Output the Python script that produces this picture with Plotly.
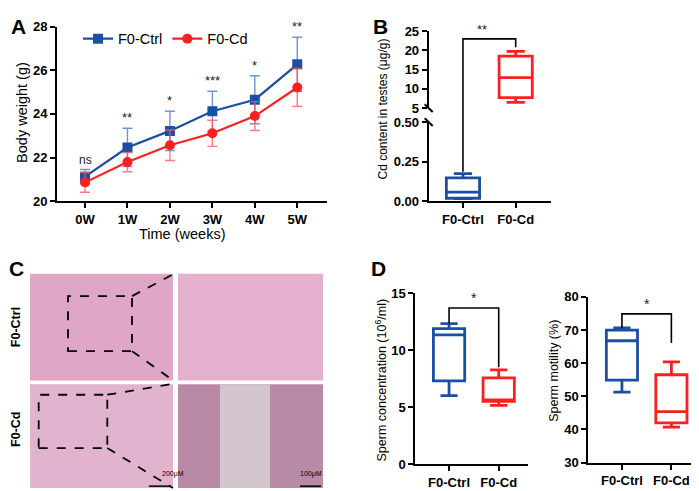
import plotly.graph_objects as go

W, H = 699, 491

# ---------------- data ----------------
weeks = ["0W", "1W", "2W", "3W", "4W", "5W"]
ctrl_mean = [21.12, 22.46, 23.22, 24.12, 24.65, 26.27]
ctrl_sd = [0.33, 0.88, 0.90, 0.92, 1.10, 1.24]
cd_mean = [20.86, 21.79, 22.56, 23.11, 23.90, 25.21]
cd_sd = [0.45, 0.44, 0.70, 0.60, 0.66, 0.87]
sig_a = ["ns", "**", "*", "***", "*", "**"]

groups = ["F0-Ctrl", "F0-Cd"]
# box stats: lowerfence, q1, median, q3, upperfence
cd_content_ctrl = [0.018, 0.02, 0.058, 0.149, 0.175]
cd_content_cd = [6.5, 7.7, 12.9, 18.5, 19.75]
conc_ctrl = [6.0, 7.3, 11.32, 11.88, 12.31]
conc_cd = [5.15, 5.5, 5.62, 7.55, 8.26]
mot_ctrl = [51.25, 54.85, 66.75, 69.97, 70.6]
mot_cd = [40.7, 42.0, 45.4, 56.5, 60.4]
sig_b, sig_conc, sig_mot = "**", "*", "*"

BLUE = "#1b4fa3"
RED = "#ff1f1f"
BLUE_ERR = "rgba(70,125,205,0.8)"
RED_ERR = "rgba(255,90,90,0.8)"
FONT = "Arial, Liberation Sans, sans-serif"


def fx(p):
    return p / W


def fy(p):
    return 1 - p / H


def dom_x(a, b):
    return [fx(a), fx(b)]


def dom_y(top, bottom):
    return [fy(bottom), fy(top)]


def to_paper(v, dom, rng):
    return dom[0] + (v - rng[0]) / (rng[1] - rng[0]) * (dom[1] - dom[0])


fig = go.Figure()

# ---------------- Panel A ----------------
xi = list(range(len(weeks)))
fig.add_trace(go.Scatter(
    x=xi, y=ctrl_mean, mode="lines+markers", name="F0-Ctrl",
    line=dict(color=BLUE, width=2.2),
    marker=dict(symbol="square", size=10, color=BLUE),
    error_y=dict(type="data", array=ctrl_sd, color=BLUE_ERR, thickness=1.4, width=5),
    xaxis="x", yaxis="y"))
fig.add_trace(go.Scatter(
    x=xi, y=cd_mean, mode="lines+markers", name="F0-Cd",
    line=dict(color=RED, width=2.2),
    marker=dict(symbol="circle", size=10, color=RED),
    error_y=dict(type="data", array=cd_sd, color=RED_ERR, thickness=1.4, width=5),
    xaxis="x", yaxis="y"))

annotations = []
for i, s in enumerate(sig_a):
    annotations.append(dict(x=i, y=ctrl_mean[i] + ctrl_sd[i], xref="x", yref="y",
                            text=s, showarrow=False, yanchor="bottom", yshift=1,
                            font=dict(family=FONT, size=12 if s == "ns" else 13, color="#222")))


def box(stats, xpos, color, xa, ya):
    return go.Box(x=[xpos], lowerfence=[stats[0]], q1=[stats[1]], median=[stats[2]],
                  q3=[stats[3]], upperfence=[stats[4]], width=0.63, whiskerwidth=0.55,
                  line=dict(color=color, width=2.8), fillcolor="rgba(0,0,0,0)",
                  boxpoints=False, showlegend=False, hoverinfo="skip",
                  xaxis=xa, yaxis=ya)


# ---------------- Panel B ----------------
fig.add_trace(box(cd_content_ctrl, 0, BLUE, "x2", "y2"))
fig.add_trace(box(cd_content_cd, 1, RED, "x2", "y3"))

# ---------------- Panel D ----------------
fig.add_trace(box(conc_ctrl, 0, BLUE, "x3", "y4"))
fig.add_trace(box(conc_cd, 1, RED, "x3", "y4"))
fig.add_trace(box(mot_ctrl, 0, BLUE, "x4", "y5"))
fig.add_trace(box(mot_cd, 1, RED, "x4", "y5"))

axis_common = dict(showline=True, linecolor="black", linewidth=2, ticks="outside",
                   ticklen=5, tickwidth=2, tickcolor="black", showgrid=False,
                   zeroline=False, tickfont=dict(family=FONT, size=13, color="black", weight="bold"))

xA = dom_x(49, 319); yA = dom_y(12, 192); rA = [20, 28]
xB = dom_x(420.7, 543); yB_lo = dom_y(110.5, 192.3); yB_hi = dom_y(16.7, 96); rB_lo = [0, 0.5]; rB_hi = [5, 25]
xD1 = dom_x(407.3, 520); yD1 = dom_y(286.7, 463.3); rD1 = [0, 15]
xD2 = dom_x(580.3, 698); yD2 = dom_y(290.7, 461.7); rD2 = [30, 80]
rxB = [-0.65, 1.67]; rxD1 = [-0.68, 1.59]; rxD2 = [-0.68, 1.70]

fig.update_layout(
    xaxis=dict(axis_common, domain=xA, range=[-0.66, 5.7], tickvals=xi, ticktext=weeks, anchor="y"),
    yaxis=dict(axis_common, domain=yA, range=rA, tickvals=[20, 22, 24, 26, 28], anchor="x"),
    xaxis2=dict(axis_common, domain=xB, range=rxB, tickvals=[0, 1], ticktext=groups, anchor="y2"),
    yaxis2=dict(axis_common, domain=yB_lo, range=rB_lo, tickvals=[0, 0.25, 0.5],
                tickformat=".2f", anchor="x2"),
    yaxis3=dict(axis_common, domain=yB_hi, range=rB_hi, tickvals=[5, 10, 15, 20, 25], anchor="x2"),
    xaxis3=dict(axis_common, domain=xD1, range=rxD1, tickvals=[0, 1], ticktext=groups, anchor="y4"),
    yaxis4=dict(axis_common, domain=yD1, range=rD1, tickvals=[0, 5, 10, 15], anchor="x3"),
    xaxis4=dict(axis_common, domain=xD2, range=rxD2, tickvals=[0, 1], ticktext=groups, anchor="y5"),
    yaxis5=dict(axis_common, domain=yD2, range=rD2, tickvals=[30, 40, 50, 60, 70, 80], anchor="x4"),
)

shapes = []
# Panel B bracket (spans the broken axis) in paper coords
bx0 = to_paper(0, xB, rxB); bx1 = to_paper(1, xB, rxB)
b_start = to_paper(cd_content_ctrl[4] + 0.012, yB_lo, rB_lo)
b_top = to_paper(23.0, yB_hi, rB_hi)
b_end = to_paper(20.8, yB_hi, rB_hi)
shapes.append(dict(type="path", xref="paper", yref="paper",
                   path=f"M {bx0},{b_start} L {bx0},{b_top} L {bx1},{b_top} L {bx1},{b_end}",
                   line=dict(color="black", width=1.6)))
annotations.append(dict(x=(bx0 + bx1) / 2, y=b_top, xref="paper", yref="paper", text=sig_b,
                        showarrow=False, yanchor="bottom", font=dict(family=FONT, size=13, color="#222")))
# break marks
ax_x = fx(420.7)
for yv in [fy(96), fy(110.5)]:
    shapes.append(dict(type="line", xref="paper", yref="paper",
                       x0=ax_x - 4 / W, y0=yv + 4 / H, x1=ax_x + 4 / W, y1=yv - 4 / H,
                       line=dict(color="black", width=2)))

# Panel D brackets
shapes.append(dict(type="path", xref="x3", yref="y4",
                   path=f"M 0,{conc_ctrl[4]} L 0,13.68 L 1,13.68 L 1,8.49",
                   line=dict(color="black", width=1.6)))
annotations.append(dict(x=0.5, y=13.68, xref="x3", yref="y4", text=sig_conc, showarrow=False,
                        yanchor="bottom", font=dict(family=FONT, size=14, color="#222")))
shapes.append(dict(type="path", xref="x4", yref="y5",
                   path=f"M 0,{mot_ctrl[4]} L 0,74.85 L 1,74.85 L 1,66.1",
                   line=dict(color="black", width=1.6)))
annotations.append(dict(x=0.5, y=74.85, xref="x4", yref="y5", text=sig_mot, showarrow=False,
                        yanchor="bottom", font=dict(family=FONT, size=14, color="#222")))

# ---------------- Panel C (histology placeholders) ----------------
def rect(x0, y0, x1, y1, color):
    return dict(type="rect", xref="paper", yref="paper", x0=fx(x0), x1=fx(x1), y0=fy(y1), y1=fy(y0),
                fillcolor=color, line=dict(width=0), layer="below")


shapes += [rect(22, 267, 165, 377, "#dfa6c8"),
           rect(170, 267, 315, 377, "#e4b0cd"),
           rect(22, 381, 165, 488, "#e2b3cf"),
           rect(170, 381, 315, 488, "#b98aa5"),
           rect(212, 381, 262, 488, "#d3c6ce")]


def dline(x0, y0, x1, y1):
    return dict(type="line", xref="paper", yref="paper", x0=fx(x0), y0=fy(y0), x1=fx(x1), y1=fy(y1),
                line=dict(color="black", width=1.8, dash="dash"))


def drect(x0, y0, x1, y1):
    return dict(type="rect", xref="paper", yref="paper", x0=fx(x0), y0=fy(y1), x1=fx(x1), y1=fy(y0),
                line=dict(color="black", width=1.8, dash="dash"))


shapes += [drect(60, 290, 124, 346.7), dline(124, 290, 165, 267.5), dline(124, 346.7, 165, 377),
           drect(30.7, 391.7, 99.3, 446.7), dline(99.3, 391.7, 165, 380.5), dline(99.3, 446.7, 165, 488)]
# scale bars
for (a, b) in [(141, 163), (292, 313)]:
    shapes.append(dict(type="line", xref="paper", yref="paper", x0=fx(a), x1=fx(b), y0=fy(486), y1=fy(486),
                       line=dict(color="black", width=1.5)))
annotations.append(dict(x=fx(152), y=fy(480), xref="paper", yref="paper", text="200μM", showarrow=False,
                        font=dict(family=FONT, size=7, color="black")))
annotations.append(dict(x=fx(302.5), y=fy(480), xref="paper", yref="paper", text="100μM", showarrow=False,
                        font=dict(family=FONT, size=7, color="black")))

# ---------------- text labels ----------------
def txt(x, y, s, size=12, angle=0, bold=False):
    return dict(x=fx(x), y=fy(y), xref="paper", yref="paper", text=s, showarrow=False,
                textangle=angle, xanchor="center", yanchor="middle",
                font=dict(family=FONT, size=size, color="black", weight="bold" if bold else "normal"))


annotations += [
    txt(10, 12, "A", 21, bold=True), txt(372, 12, "B", 21, bold=True),
    txt(8, 262, "C", 21, bold=True), txt(370, 262, "D", 21, bold=True),
    txt(14, 101, "Body weight (g)", 14.5, -90),
    txt(173.5, 226, "Time (weeks)", 14.5),
    txt(375.5, 97, "Cd content in testes (μg/g)", 12, -90),
    txt(373, 377, "Sperm concentration (10<sup>6</sup>/ml)", 12.5, -90),
    txt(546, 367, "Sperm motility (%)", 12.5, -90),
    txt(8, 322, "F0-Ctrl", 12.5, -90, bold=True),
    txt(8, 428, "F0-Cd", 12.5, -90, bold=True),
]

fig.update_layout(
    width=W, height=H, margin=dict(l=0, r=0, t=0, b=0),
    paper_bgcolor="white", plot_bgcolor="rgba(0,0,0,0)",
    shapes=shapes, annotations=annotations,
    showlegend=True,
    legend=dict(orientation="h", x=fx(70), y=fy(8), xanchor="left", yanchor="top",
                bgcolor="rgba(0,0,0,0)", font=dict(family=FONT, size=14.5, color="black"),
                itemwidth=30, traceorder="normal"),
    font=dict(family=FONT),
)

fig.write_html("out.html")
